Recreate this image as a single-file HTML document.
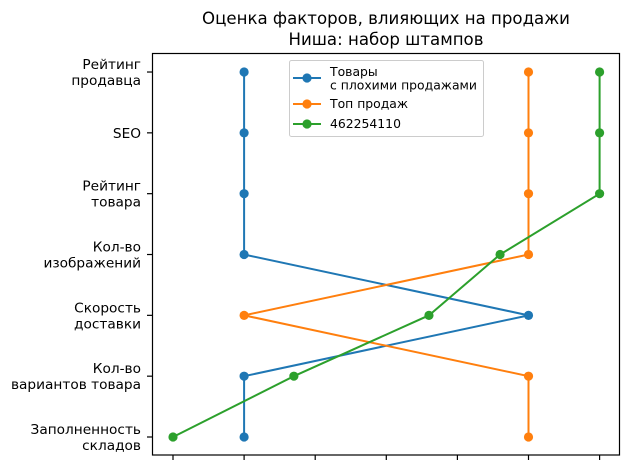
<!DOCTYPE html>
<html><head><meta charset="utf-8"><style>
body{margin:0;background:#fff}
svg{display:block;font-family:"DejaVu Sans","Liberation Sans",sans-serif}
</style></head><body>
<svg id="chart" width="630" height="470" viewBox="0 0 630 470">
<text x="386" y="24" font-size="16.6" text-anchor="middle" fill="#000">Оценка факторов, влияющих на продажи</text>
<text x="386" y="45" font-size="16.6" text-anchor="middle" fill="#000">Ниша: набор штампов</text>
<g id="plot"></g>
</svg>
<script>
const categories=["Заполненность\nскладов","Кол-во\nвариантов товара","Скорость\nдоставки","Кол-во\nизображений","Рейтинг\nтовара","SEO","Рейтинг\nпродавца"];
const xTicks=[0,1,2,3,4,5,6];
const seriesNames=["Товары\nс плохими продажами","Топ продаж","462254110"];
const badValues=[1,1,5,1,1,1,1];
const topValues=[5,5,1,5,5,5,5];
const itemValues=[0,1.7,3.6,4.6,6,6,6];
const colors=["#1f77b4","#ff7f0e","#2ca02c"];
const NS="http://www.w3.org/2000/svg";
const g=document.getElementById('plot');
function xs(v){return 173+v*71.1;}
function ys(i){return 437-i*60.83;}
function el(t,a){const e=document.createElementNS(NS,t);for(const k in a)e.setAttribute(k,a[k]);g.appendChild(e);return e;}
let fr=el('rect',{x:152.5,y:53.5,width:467,height:401.5,fill:'none',stroke:'#000','stroke-width':1.2});


xTicks.forEach(v=>{const t=el('line',{x1:xs(v),x2:xs(v),y1:455,y2:460,stroke:'#000','stroke-width':1.2});

});
categories.forEach((c,i)=>{
const t=el('line',{x1:147,x2:152.5,y1:ys(i),y2:ys(i),stroke:'#000','stroke-width':1.2});


const lines=c.split('\n');
const tx=el('text',{x:141,y:ys(i)+(lines.length===1?5:-3),'font-size':13.7,'text-anchor':'end',fill:'#000'});


lines.forEach((l,j)=>{const s=document.createElementNS(NS,'tspan');s.setAttribute('x',141);if(j>0)s.setAttribute('dy',16);s.textContent=l;tx.appendChild(s);});
});
[badValues,topValues,itemValues].forEach((vals,si)=>{
const pts=vals.map((v,i)=>xs(v)+','+ys(i)).join(' ');
const p=el('polyline',{points:pts,fill:'none',stroke:colors[si],'stroke-width':2});


vals.forEach((v,i)=>{const c=el('circle',{cx:xs(v),cy:ys(i),r:4.6,fill:colors[si]});

});
});
const lg=el('rect',{x:289.5,y:60.5,width:194,height:76,rx:2,fill:'#fff','fill-opacity':0.8,stroke:'#ccc'});


const ly=[78,104,124];
seriesNames.forEach((n,si)=>{
const l=el('line',{x1:293,x2:321,y1:ly[si],y2:ly[si],stroke:colors[si],'stroke-width':2});


const c=el('circle',{cx:307,cy:ly[si],r:4.6,fill:colors[si]});


const lines=n.split('\n');
const tx=el('text',{x:330,y:lines.length>1?ly[si]-2:ly[si]+4,'font-size':12.4,fill:'#000'});


lines.forEach((t,j)=>{const s=document.createElementNS(NS,'tspan');s.setAttribute('x',330);if(j>0)s.setAttribute('dy',13.5);s.textContent=t;tx.appendChild(s);});
});
</script>
</body></html>
